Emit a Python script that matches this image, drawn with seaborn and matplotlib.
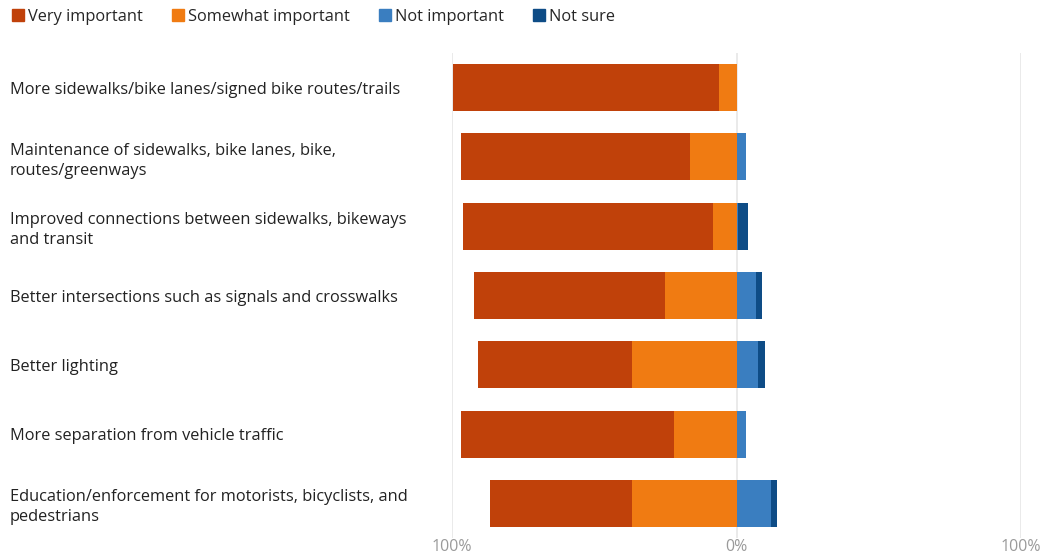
import matplotlib
matplotlib.use("Agg")
import matplotlib.pyplot as plt
import seaborn as sns
import pandas as pd
from matplotlib.lines import Line2D

categories = [
    "More sidewalks/bike lanes/signed bike routes/trails",
    "Maintenance of sidewalks, bike lanes, bike,\nroutes/greenways",
    "Improved connections between sidewalks, bikeways\nand transit",
    "Better intersections such as signals and crosswalks",
    "Better lighting",
    "More separation from vehicle traffic",
    "Education/enforcement for motorists, bicyclists, and\npedestrians",
]
very_important = [93.5, 80.5, 88.2, 67.1, 53.8, 75.2, 49.9]
somewhat_important = [6.3, 16.5, 8.1, 25.0, 36.9, 21.8, 36.6]
not_important = [0.3, 3.2, 0.6, 7.0, 7.4, 3.2, 12.0]
not_sure = [0.0, 0.0, 3.3, 1.8, 2.5, 0.0, 2.1]

series = ["Very important", "Somewhat important", "Not important", "Not sure"]
colors = ["#C0410A", "#F07B12", "#3A7EC0", "#0E4C86"]
tick_vals = [-100, 0, 100]
tick_labels = ["100%", "0%", "100%"]

sns.set_theme(style="white")
plt.rcParams["font.family"] = ["Open Sans", "DejaVu Sans"]

df = pd.DataFrame({
    "cat": categories,
    "neg_outer": [-(v + s) for v, s in zip(very_important, somewhat_important)],
    "neg_inner": [-s for s in somewhat_important],
    "pos_outer": [n + u for n, u in zip(not_important, not_sure)],
    "pos_inner": not_important,
})

fig = plt.figure(figsize=(10.46, 5.56), dpi=100)
ax = fig.add_axes([452 / 1046, 1 - 538 / 556, (1021 - 452) / 1046, 485 / 556])

for x in tick_vals:
    ax.axvline(x, color="#e6e6e6", lw=1.2, zorder=0)

w = 0.68
common = dict(orient="h", width=w, ax=ax, saturation=1, linewidth=0)
sns.barplot(data=df, x="neg_outer", y="cat", color=colors[0], zorder=2, **common)
sns.barplot(data=df, x="neg_inner", y="cat", color=colors[1], zorder=3, **common)
sns.barplot(data=df, x="pos_outer", y="cat", color=colors[3], zorder=2, **common)
sns.barplot(data=df, x="pos_inner", y="cat", color=colors[2], zorder=3, **common)

ax.set_xlim(-100, 100)
ax.set_ylim(6.5, -0.5)
ax.set_xlabel("")
ax.set_ylabel("")
ax.set_xticks(tick_vals)
ax.set_xticklabels(tick_labels, color="#9a9a9a", fontsize=11.5)
ax.tick_params(axis="x", length=0, pad=1)
ax.set_yticks(range(len(categories)))
ax.set_yticklabels(categories, ha="left", fontsize=11.8, color="#222222",
                   linespacing=1.3)
ax.tick_params(axis="y", length=0, pad=(452 - 10) * 72 / 100)
for sp in ax.spines.values():
    sp.set_visible(False)

handles = [Line2D([], [], marker="s", linestyle="", markersize=8.5,
                  markerfacecolor=c, markeredgecolor=c) for c in colors]
fig.legend(handles, series, loc="upper left", bbox_to_anchor=(0.0, 1.002),
           ncol=4, frameon=False, fontsize=11.8, handletextpad=0.1,
           columnspacing=1.65, handlelength=1.0, borderaxespad=0.2)

fig.savefig("out.png", dpi=100)
